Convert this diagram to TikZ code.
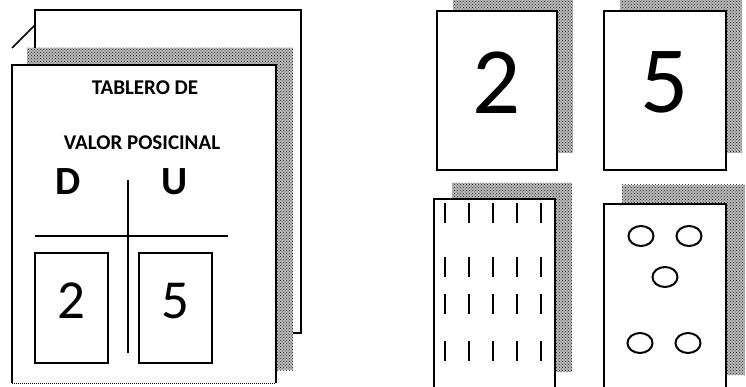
\documentclass[tikz,border=0pt]{standalone}
\usepackage{fontspec}
\setmainfont{Carlito}
\usetikzlibrary{patterns}

\tikzset{
  sheet/.style={draw, line width=1.8pt, fill=white},
  stipple/.style={preaction={fill=black!28}, pattern=crosshatch dots, pattern color=black!85},
  card/.style={draw, line width=2.1pt, fill=white, inner sep=0pt},
  bigdigit/.style={font=\fontsize{95}{95}\selectfont, text depth=16pt},
  smalldigit/.style={font=\fontsize{55}{55}\selectfont, text depth=14pt},
  stick/.style={line width=2.3pt},
  ring/.style={line width=2pt}
}

\begin{document}
\begin{tikzpicture}[x=1pt, y=-1pt]
        \useasboundingbox (0,0) rectangle (746,387);

        % Tablero: hoja de atras, sombra y hoja de adelante
        \draw[sheet] (35,10) rectangle (301,333);
        \fill[stipple] (27,48) rectangle (293,370);
        \draw[line width=1.5pt] (12,48) -- (35,25);
        \path[fill=white] (12,65) rectangle (276,383);
        \draw[line width=1.8pt] (12,383) -- (12,65) -- (276,65) -- (276,383);
        \draw[densely dotted, line width=1pt] (12,383) -- (276,383);

        \node[font=\bfseries\fontsize{21}{21}\selectfont] (titA) at (145,88) {TABLERO DE};
        \node[font=\bfseries\fontsize{21}{21}\selectfont] (titB) at (142,143) {VALOR POSICINAL};
        \node[font=\bfseries\fontsize{40}{40}\selectfont] (dec) at (68,182) {D};
        \node[font=\bfseries\fontsize{40}{40}\selectfont] (uni) at (175,182) {U};

        % Cruz
        \draw[line width=1.8pt] (128,180) -- (128,353);
        \draw[line width=1.8pt] (35,236) -- (228,236);

        \node[card, smalldigit, minimum width=73pt, minimum height=110pt] (d2) at (71.5,308) {2};
        \node[card, smalldigit, minimum width=73pt, minimum height=110pt] (u5) at (175.5,308) {5};

        % Tarjetas con numeros
        \fill[stipple] (453,-6) rectangle (573,153);
        \fill[stipple] (620,-6) rectangle (742,153);
        \node[card, bigdigit, minimum width=120pt, minimum height=159pt] (dos) at (497,90.5) {2};
        \node[card, bigdigit, minimum width=122pt, minimum height=159pt] (cinco) at (665,90.5) {5};

        % Tarjetas con palitos y bolitas
        \fill[stipple] (452,183) rectangle (572,372);
        \fill[stipple] (622,185) rectangle (745,375);
        \node[card, minimum width=121pt, minimum height=190pt] (palitos) at (494.5,294) {};
        \node[card, minimum width=122pt, minimum height=187pt] (bolitas) at (665,297.5) {};

        \foreach \y in {213, 267, 304, 351} {
            \foreach \x in {445, 469, 493, 517, 541} {
                \draw[stick] (\x,\y-10) -- (\x,\y+10);
            }
        }

        \foreach \x/\y in {641/236, 689/236, 665/277, 640/343, 688/343} {
            \draw[ring] (\x,\y) ellipse [x radius=12.5, y radius=10];
        }
\end{tikzpicture}
\end{document}
